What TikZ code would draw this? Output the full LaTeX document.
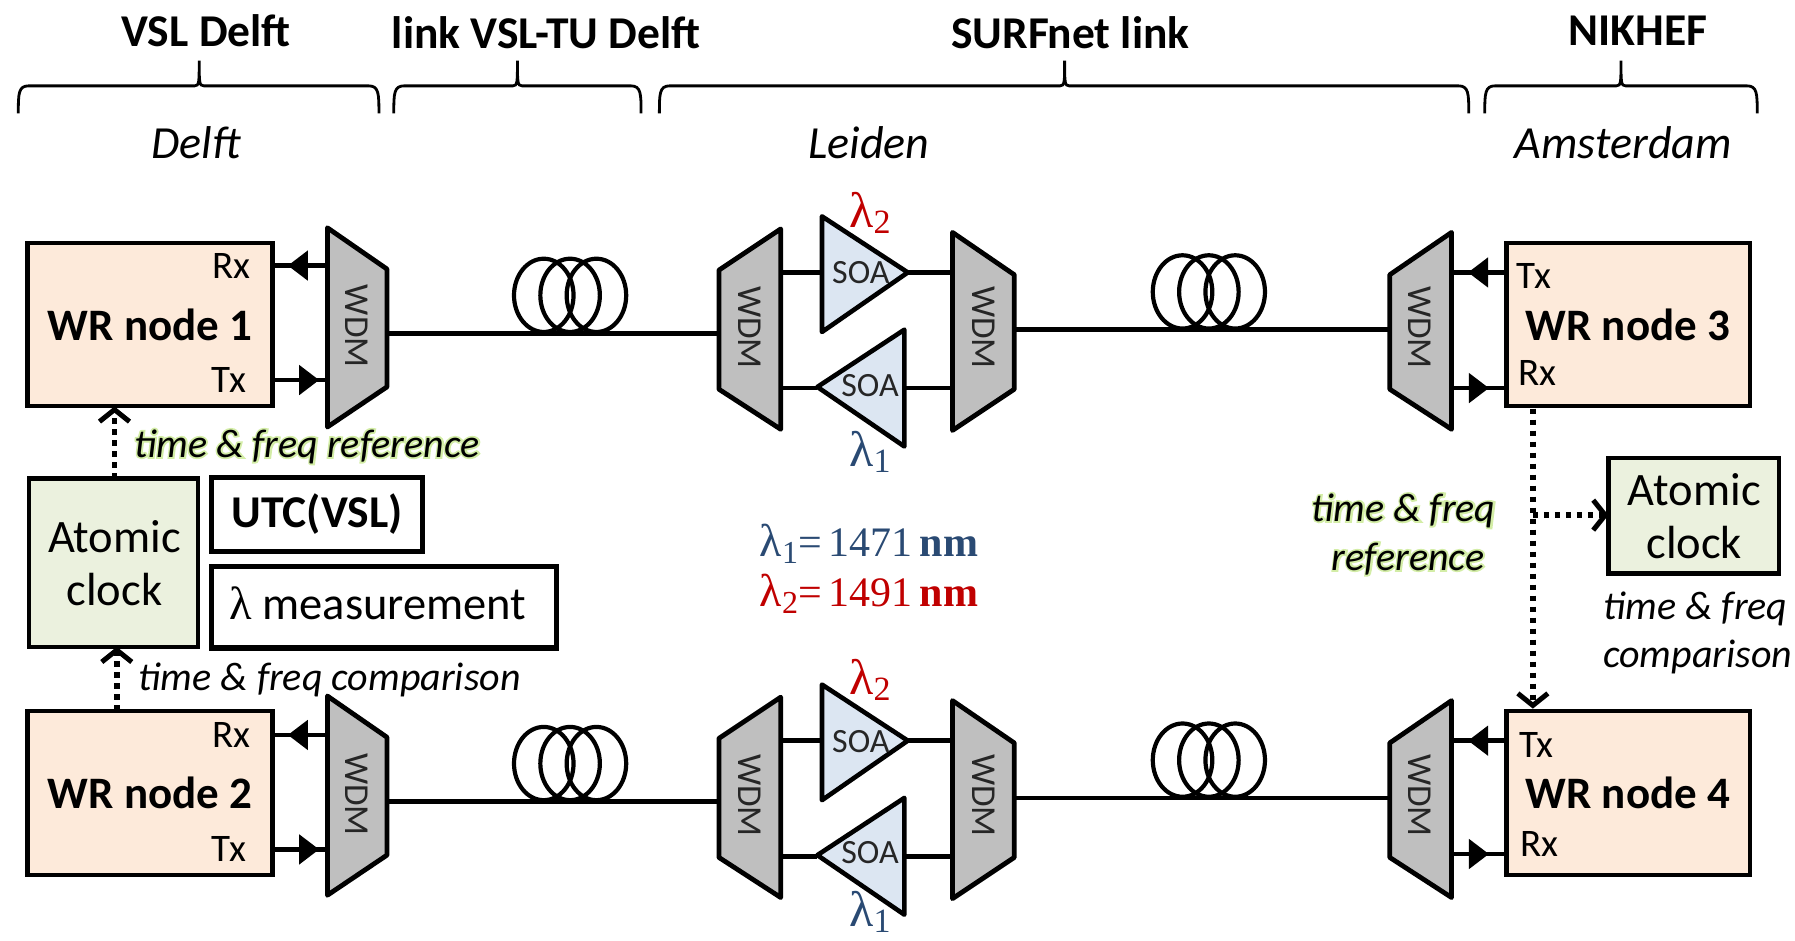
\documentclass[tikz,border=0pt]{standalone}
\usepackage{fontspec}
\setmainfont{Carlito}
\newfontfamily\serif{Liberation Serif}
\usetikzlibrary{arrows.meta,decorations.markings}
\definecolor{wrfill}{HTML}{FDEADA}
\definecolor{clockfill}{HTML}{EBF1DE}
\definecolor{soafill}{HTML}{DCE6F2}
\definecolor{wdmfill}{HTML}{BFBFBF}
\definecolor{lblue}{HTML}{2A4A73}
\definecolor{lred}{HTML}{C00000}
\definecolor{glow}{HTML}{D3EDA6}
\newcommand\fs[1]{\fontsize{#1}{#1}\selectfont}
\newcommand\boxnode[7][]{%
  \node[#2,minimum width={(#5-#3)*1.1448pt},minimum height={(#6-#4)*1.1448pt},#1] (#7) at ({(#3+#5)/2},{(#4+#6)/2}) {};}
\newcommand\brc[3]{\draw[brace] (#1,99) .. controls (#1,82) and (#1,75) .. ({#1+9},75) -- ({#2-4},75) .. controls (#2,75) and (#2,72) .. (#2,53) .. controls (#2,72) and (#2,75) .. ({#2+4},75) -- ({#3-9},75) .. controls (#3,75) and (#3,82) .. (#3,99);}
\newcommand\coil[2]{\foreach \cx in {-23,0,23}{\draw[coilline] ({#1+\cx},{#2-33}) ellipse (26 and 32);}}
\newcommand\globox[3]{\node[lab,text=glow] at (#1,#2) {\addfontfeature{FakeBold=9}#3};\node[lab] at (#1,#2) {#3};}
\newcommand\lsub[2]{{\fs{50}λ}\raisebox{-6pt}{\fs{34}#1}#2}
\newcommand\lsubb[2]{{\fs{46}λ}\raisebox{-7pt}{\fs{32}#1}#2}
\tikzset{
  x=1.1448pt,y=-1.1448pt,
  wrbox/.style={draw,fill=wrfill,line width=4.2pt,inner sep=0pt,outer sep=0pt},
  clockbox/.style={draw,fill=clockfill,line width=4.2pt,inner sep=0pt,outer sep=0pt},
  plainbox/.style={draw,fill=white,line width=5.4pt,inner sep=0pt,outer sep=0pt},
  wdmshape/.style={draw,fill=wdmfill,line width=4.8pt,line join=round},
  soashape/.style={draw,fill=soafill,line width=4.6pt,line join=round},
  fib/.style={line width=4.8pt},
  coilline/.style={line width=4.2pt},
  brace/.style={line width=2.8pt},
  mid/.style={postaction={decorate},decoration={markings,mark=at position #1 with {\arrow{Triangle[width=29pt,length=20pt]}}}},
  ref/.style={line width=5.6pt,dash pattern=on 5.5pt off 5.5pt,-{Straight Barb[length=12pt,width=30pt,line width=5pt]}},
  hdr/.style={font=\bfseries\fs{45.5},inner sep=0pt},
  loc/.style={font=\itshape\fs{46},inner sep=0pt},
  nd/.style={font=\bfseries\fs{45},inner sep=0pt},
  port/.style={font=\fs{39},inner sep=0pt},
  wd/.style={font=\fs{35},text=black!85,rotate=-90,inner sep=0pt},
  soa/.style={font=\fs{34},text=black!85,inner sep=0pt},
  big/.style={font=\fs{46.5},inner sep=0pt,align=center},
  lab/.style={font=\itshape\fs{40},inner sep=0pt},
  lam/.style={font=\serif\fs{42},inner sep=0pt},
}
\begin{document}
\begin{tikzpicture}
\useasboundingbox (0,0) rectangle (1568,822);
% headers
\node[hdr] (h1) at (180,27) {VSL Delft};
\node[hdr] (h2) at (477,29) {link VSL-TU Delft};
\node[hdr] (h3) at (935,29) {SURFnet link};
\node[hdr] (h4) at (1431,27) {NIKHEF};
\brc{16}{174}{331}
\brc{344}{452}{560}
\brc{576}{930}{1283}
\brc{1297}{1416}{1535}
\node[loc] (l1) at (171,125) {Delft};
\node[loc] (l2) at (759,125) {Leiden};
\node[loc] (l3) at (1418,125) {Amsterdam};
% rows
\foreach \dy/\na in {0/1,409/2}{
  \begin{scope}[yshift={-\dy*1.1448pt}]
  \coordinate (f1l\na) at (338,291);
  \coordinate (f1r\na) at (628,291);
  \coordinate (f2l\na) at (886,288);
  \coordinate (f2r\na) at (1214,288);
  \draw[fib] (f1l\na) -- (f1r\na);
  \draw[fib] (f2l\na) -- (f2r\na);
  \coil{498}{291}
  \coil{1056}{288}
  \coordinate (s1a\na) at (682,238); \coordinate (s1b\na) at (718,238);
  \coordinate (s1c\na) at (793,238); \coordinate (s1d\na) at (832,238);
  \coordinate (s2a\na) at (682,339); \coordinate (s2b\na) at (714,339);
  \coordinate (s2c\na) at (790,339); \coordinate (s2d\na) at (832,339);
  \draw[fib] (s1a\na) -- (s1b\na);
  \draw[fib] (s1c\na) -- (s1d\na);
  \draw[fib] (s2a\na) -- (s2b\na);
  \draw[fib] (s2c\na) -- (s2d\na);
  \draw[wdmshape] (286,199) -- (338,235) -- (338,338) -- (286,373) -- cycle;
  \draw[wdmshape] (628,236) -- (682,200) -- (682,375) -- (628,340) -- cycle;
  \draw[wdmshape] (832,203) -- (886,240) -- (886,340) -- (832,376) -- cycle;
  \draw[wdmshape] (1214,240) -- (1268,203) -- (1268,375) -- (1214,340) -- cycle;
  \node[wd] (wa\na) at (312,285) {WDM};
  \node[wd] (wb\na) at (655,286) {WDM};
  \node[wd] (wc\na) at (859,286) {WDM};
  \node[wd] (wd\na) at (1240,286) {WDM};
  \draw[soashape] (718,189) -- (793,238) -- (718,290) -- cycle;
  \draw[soashape] (790,288) -- (790,390) -- (714,338) -- cycle;
  \end{scope}
}
\foreach \yy/\nn in {238/1,648/2}{\node[soa] (sa\nn) at (752,\yy) {SOA};}
\foreach \yy/\nn in {337/1,745/2}{\node[soa] (sb\nn) at (760,\yy) {SOA};}
\foreach \yy/\nn in {186/1,594/2}{\node[lam,text=lred] (lr\nn) at (760,\yy) {\lsub{2}{}};}
\foreach \yy/\nn in {395/1,797/2}{\node[lam,text=lblue] (lb\nn) at (760,\yy) {\lsub{1}{}};}
% WR nodes
\boxnode{wrbox}{24}{212}{238}{355}{wr1}
\boxnode{wrbox}{24}{621}{238}{764}{wr2}
\boxnode{wrbox}{1316}{212}{1529}{355}{wr3}
\boxnode{wrbox}{1316}{621}{1529}{764}{wr4}
\node[nd] (n1) at (131,284) {WR node 1};
\node[nd] (n2) at (131,693) {WR node 2};
\node[nd] (n3) at (1422,284) {WR node 3};
\node[nd] (n4) at (1422,693) {WR node 4};
\node[port] (p1r) at (202,232) {Rx};
\node[port] (p1t) at (200,332) {Tx};
\node[port] (p2r) at (202,642) {Rx};
\node[port] (p2t) at (200,742) {Tx};
\node[port] (p3t) at (1340,241) {Tx};
\node[port] (p3r) at (1343,326) {Rx};
\node[port] (p4t) at (1342,651) {Tx};
\node[port] (p4r) at (1345,737) {Rx};
% port connectors
\coordinate (c1r) at (286,232);\coordinate (c1t) at (286,332);
\coordinate (c2r) at (286,642);\coordinate (c2t) at (286,742);
\coordinate (c3t) at (1268,238);\coordinate (c3r) at (1268,339);
\coordinate (c4t) at (1268,647);\coordinate (c4r) at (1268,746);
\draw[fib,mid=.72] (c1r) -- (wr1.east |- c1r);
\draw[fib,mid=.85] (wr1.east |- c1t) -- (c1t);
\draw[fib,mid=.72] (c2r) -- (wr2.east |- c2r);
\draw[fib,mid=.85] (wr2.east |- c2t) -- (c2t);
\draw[fib,mid=.7] (wr3.west |- c3t) -- (c3t);
\draw[fib,mid=.68] (c3r) -- (wr3.west |- c3r);
\draw[fib,mid=.7] (wr4.west |- c4t) -- (c4t);
\draw[fib,mid=.68] (c4r) -- (wr4.west |- c4r);
% clocks and boxes
\boxnode{clockbox}{25}{418}{173}{565}{ac1}
\boxnode{clockbox}{1405}{400}{1554}{501}{ac2}
\node[big] (act1) at (100,492) {Atomic\\[7pt]clock};
\node[big] (act2) at (1480,451) {Atomic\\[7pt]clock};
\boxnode{plainbox}{185}{417}{369}{482}{utc}
\boxnode{plainbox}{185}{495}{486}{566}{lam}
\node[font=\bfseries\fs{45.5},inner sep=0pt] (utct) at (277,449) {UTC(VSL)};
\node[font=\fs{46.5},inner sep=0pt] (lamt) at (330,527) {{\serif λ} measurement};
% dotted references
\draw[ref] (ac1.north -| 100,0) -- (wr1.south -| 100,0);
\draw[ref] (wr2.north -| 102,0) -- (ac1.south -| 102,0);
\coordinate (drop) at (1339,357);
\coordinate (dropend) at (1339,619);
\coordinate (branch) at (1339,450);
\draw[ref] (drop) -- (dropend);
\draw[ref] (branch) -- (ac2.west |- branch);
% labels
\globox{268}{390}{time \& freq reference}
\node[lab] (cmp1) at (288,594) {time \& freq comparison};
\globox{1226}{446}{time \& freq}
\globox{1230}{488}{reference}
\node[lab] (cmp2) at (1481,532) {time \& freq};
\node[lab] (cmp3) at (1483,574) {comparison};
% wavelengths
\node[lam,text=lblue] (w1) at (759,475) {\lsubb{1}{=\,1471\,\textbf{nm}}};
\node[lam,text=lred] (w2) at (759,519) {\lsubb{2}{=\,1491\,\textbf{nm}}};
\end{tikzpicture}
\end{document}
